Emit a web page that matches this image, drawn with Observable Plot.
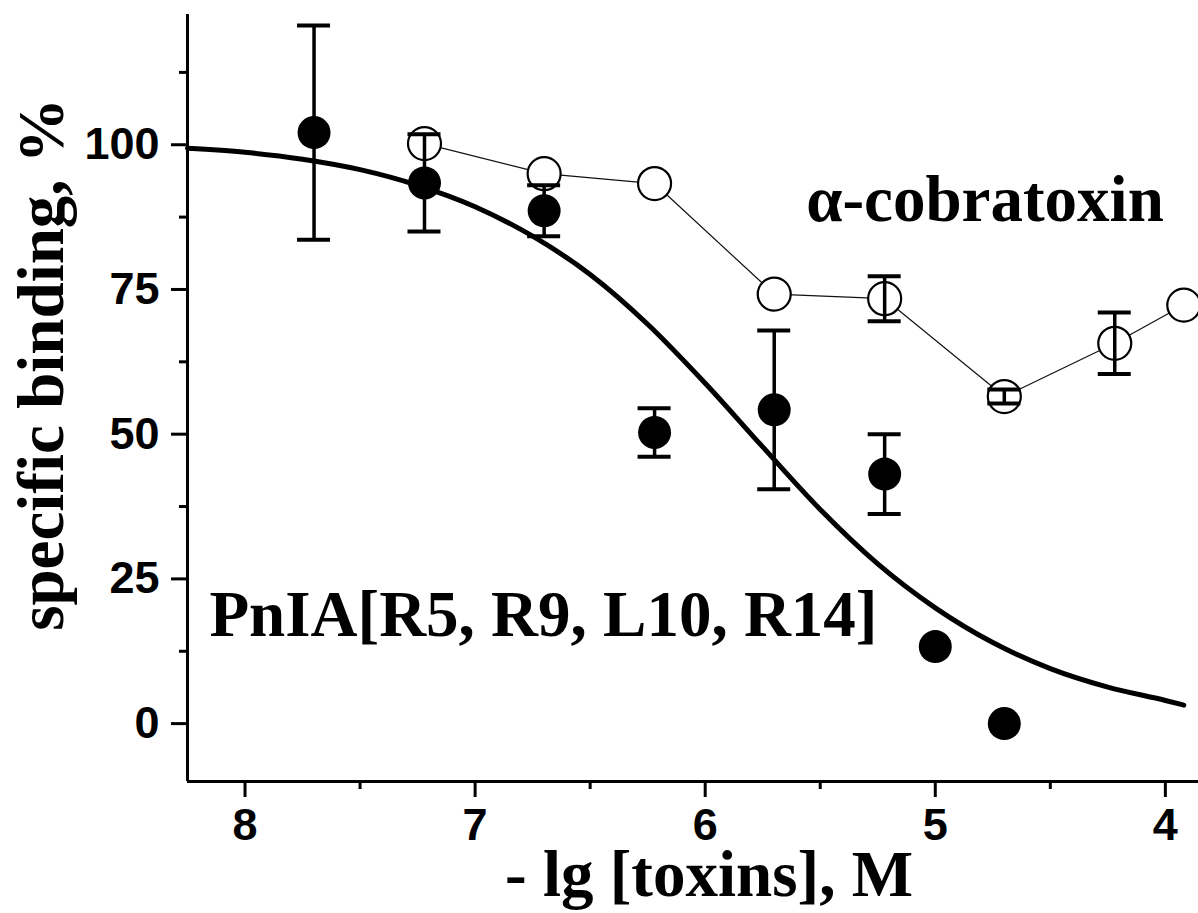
<!DOCTYPE html>
<html><head><meta charset="utf-8">
<script src="https://cdn.jsdelivr.net/npm/d3@7"></script>
<script src="https://cdn.jsdelivr.net/npm/@observablehq/plot@0.6"></script>
<style>body{margin:0;background:#fff}</style>
</head><body><div id="chart"></div>
<script>
// Axes
const xDomain = [8.25, 3.856];
const yDomain = [-10, 122.5];
const xMajorTicks = [8, 7, 6, 5, 4];
const xMinorTicks = [7.5, 6.5, 5.5, 4.5];
const yMajorTicks = [0, 25, 50, 75, 100];
const yMinorTicks = [12.5, 37.5, 62.5, 87.5, 112.5];
const xTitle = "- lg [toxins], M";
const yTitle = "specific binding, %";

// PnIA[R5, R9, L10, R14] (filled circles)
const pniaX = [7.7, 7.22, 6.7, 6.22, 5.7, 5.22, 5.0, 4.7];
const pniaY = [102.1, 93.4, 88.6, 50.3, 54.2, 43.1, 13.3, 0.0];
const pniaErr = [18.5, 8.4, 4.4, 4.2, 13.7, 6.9, null, null];

// alpha-cobratoxin (open circles)
const cobraX = [7.22, 6.7, 6.22, 5.7, 5.22, 4.7, 4.22, 3.92];
const cobraY = [100.2, 95.0, 93.3, 74.2, 73.4, 56.5, 65.7, 72.3];
const cobraErr = [null, null, null, null, 3.9, 1.2, 5.3, null];

// fitted curve for PnIA
const fitX = [8.25, 8.0, 7.75, 7.5, 7.25, 7.0, 6.75, 6.5, 6.25, 6.0, 5.75, 5.5, 5.25, 5.0, 4.75, 4.5, 4.25, 4.0, 3.92];
const fitY = [99.4, 98.7, 97.5, 95.7, 93.0, 89.3, 84.2, 77.6, 69.0, 58.8, 47.8, 37.0, 27.6, 20.0, 14.0, 9.5, 6.3, 4.0, 3.2];

// annotations
const labelTexts = ["α-cobratoxin", "PnIA[R5, R9, L10, R14]"];
const labelX = [4.784, 6.703];
const labelY = [86.9, 15.2];

const pnia = pniaX.map((x, i) => ({x, y: pniaY[i], err: pniaErr[i]}));
const cobra = cobraX.map((x, i) => ({x, y: cobraY[i], err: cobraErr[i]}));
const fit = fitX.map((x, i) => ({x, y: fitY[i]}));
const labels = labelTexts.map((t, i) => ({t, x: labelX[i], y: labelY[i]}));
const errs = [...pnia, ...cobra].filter(d => d.err != null)
  .map(d => ({x: d.x, lo: d.y - d.err, hi: d.y + d.err}));

const serif = "'Liberation Serif', 'Times New Roman', serif";
const capHalf = 16.5;

const chart = Plot.plot({
  width: 1198,
  height: 913,
  marginLeft: 187,
  marginRight: 0,
  marginTop: 14,
  marginBottom: 132,
  style: "font-family: 'Liberation Sans', Arial, sans-serif; font-size: 45px; font-weight: bold; background: white; color: black;",
  x: {domain: xDomain, axis: null},
  y: {domain: yDomain, axis: null},
  marks: [
    Plot.ruleX([xDomain[0]], {stroke: "black", strokeWidth: 3}),
    Plot.ruleY([yDomain[0]], {stroke: "black", strokeWidth: 3}),
    Plot.axisX({ticks: xMajorTicks, tickSize: 16, tickPadding: 11, strokeWidth: 3, label: null, tickFormat: d => String(d)}),
    Plot.axisX({ticks: xMinorTicks, tickSize: 8, strokeWidth: 3, label: null, tickFormat: () => ""}),
    Plot.axisY({ticks: yMajorTicks, tickSize: 16, tickPadding: 12, strokeWidth: 3, label: null, tickFormat: d => String(d)}),
    Plot.axisY({ticks: yMinorTicks, tickSize: 8, strokeWidth: 3, label: null, tickFormat: () => ""}),
    Plot.line(cobra, {x: "x", y: "y", stroke: "#111", strokeWidth: 1.2}),
    Plot.dot(cobra, {x: "x", y: "y", r: 16.5, fill: "white", stroke: "black", strokeWidth: 2.2}),
    Plot.line(fit, {x: "x", y: "y", curve: "monotone-x", stroke: "black", strokeWidth: 5}),
    Plot.ruleX(errs, {x: "x", y1: "lo", y2: "hi", stroke: "black", strokeWidth: 3.5}),
    Plot.ruleY(errs, {x1: "x", x2: "x", y: "lo", insetLeft: -capHalf, insetRight: -capHalf, stroke: "black", strokeWidth: 4}),
    Plot.ruleY(errs, {x1: "x", x2: "x", y: "hi", insetLeft: -capHalf, insetRight: -capHalf, stroke: "black", strokeWidth: 4}),
    Plot.dot(pnia, {x: "x", y: "y", r: 16.5, fill: "black", stroke: "none"}),
    Plot.text(labels, {x: "x", y: "y", text: "t", lineAnchor: "bottom", textAnchor: "middle", fontFamily: serif, fontSize: 65, fontWeight: "bold", fill: "black"}),
    Plot.text([xTitle], {text: d => d, frameAnchor: "bottom", textAnchor: "middle", dx: 16, dy: 114, lineAnchor: "bottom", fontFamily: serif, fontSize: 65, fontWeight: "bold", fill: "black"}),
    Plot.text([yTitle], {text: d => d, frameAnchor: "left", textAnchor: "middle", rotate: -90, dx: -125, dy: -33.5, lineAnchor: "bottom", fontFamily: serif, fontSize: 65, fontWeight: "bold", fill: "black"})
  ]
});
document.getElementById("chart").appendChild(chart);
</script>
</body></html>
